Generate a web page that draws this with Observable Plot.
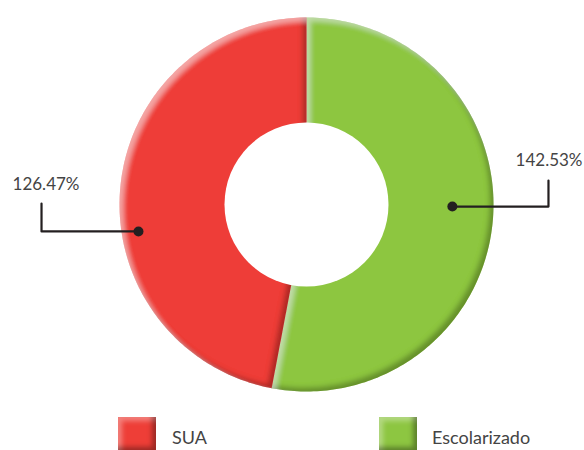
<!DOCTYPE html>
<html>
<head>
<meta charset="utf-8">
<script src="https://cdn.jsdelivr.net/npm/d3@7"></script>
<script src="https://cdn.jsdelivr.net/npm/@observablehq/plot@0.6"></script>
<style>
  html, body { margin: 0; padding: 0; background: #fff; }
  #wrap { position: relative; width: 584px; height: 450px; overflow: hidden; font-family: Lato, "Open Sans", sans-serif; }
  #legend { position: absolute; left: 0; top: 417px; width: 584px; height: 40px; }
  .sw { position: absolute; top: 0; width: 38px; height: 34px;
        box-shadow: inset -4px -4px 5px rgba(0,0,0,0.35), inset 4px 4px 5px rgba(255,255,255,0.35); }
  .lb { position: absolute; top: 10px; font-size: 18px; color: #444; line-height: 20px; }
</style>
</head>
<body>
<div id="wrap"></div>
<script>
// ---- data ----
const categories = ["Escolarizado", "SUA"];
const values = [142.53, 126.47];
const labels = ["142.53%", "126.47%"];
const colors = ["#8dc641", "#ee3e37"];

// ---- layout constants ----
const W = 584, H = 410;
const cx = 306, cy = 204, R = 187;
const holeFrac = 82 / 187;

const pie = d3.pie().sort(null).value(d => d.value).startAngle(0).endAngle(2 * Math.PI);
const arcs = pie(categories.map((c, i) => ({cat: c, value: values[i], color: colors[i], label: labels[i]})));

// slice polygons in unit coordinates (y up)
function slicePoints(a) {
  const pts = [{x: 0, y: 0}];
  const n = Math.max(8, Math.ceil((a.endAngle - a.startAngle) / (Math.PI / 180)));
  for (let k = 0; k <= n; k++) {
    const t = a.startAngle + (a.endAngle - a.startAngle) * k / n;
    pts.push({x: Math.sin(t), y: Math.cos(t)});
  }
  return pts;
}

// annotation anchors: angle (deg, clockwise from top), radius fraction; label offsets
const annot = [
  {angle: 90.8, rf: 0.78, elbowX: 1.294, elbowY: 0.128, tx: 1.476, ty: 0.208, anchor: "end"},
  {angle: 260.9, rf: 0.91, elbowX: -1.417, elbowY: 0.005, tx: -1.572, ty: 0.075, anchor: "start"}
];
const leaderLines = [], dots = [], texts = [];
arcs.forEach((a, i) => {
  const an = annot[i];
  const t = an.angle * Math.PI / 180;
  const dx = Math.sin(t) * an.rf, dy = Math.cos(t) * an.rf;
  dots.push({x: dx, y: dy});
  leaderLines.push({k: i, x: dx, y: dy}, {k: i, x: an.elbowX, y: dy}, {k: i, x: an.elbowX, y: an.elbowY});
  texts.push({x: an.tx, y: an.ty, text: a.data.label, anchor: an.anchor});
});

const marks = [];
arcs.forEach(a => {
  marks.push(Plot.line(slicePoints(a), {x: "x", y: "y", fill: a.data.color, stroke: "none", curve: "linear-closed"}));
});
marks.push(Plot.dot([{x: 0, y: 0}], {x: "x", y: "y", r: holeFrac * R, fill: "white", stroke: "none"}));
marks.push(Plot.line(leaderLines, {x: "x", y: "y", z: "k", stroke: "#231f20", strokeWidth: 2.2}));
marks.push(Plot.dot(dots, {x: "x", y: "y", r: 5, fill: "#231f20"}));
texts.forEach(t => {
  marks.push(Plot.text([t], {x: "x", y: "y", text: "text", textAnchor: t.anchor, lineAnchor: "bottom",
    fontSize: 17, fill: "#444", fontFamily: "Lato, 'Open Sans', sans-serif"}));
});

const svg = Plot.plot({
  width: W, height: H,
  margin: 0,
  x: {domain: [-1, 1], range: [cx - R, cx + R], axis: null},
  y: {domain: [-1, 1], range: [cy + R, cy - R], axis: null},
  style: {background: "white", overflow: "visible"},
  marks
});

// bevel filter
const ns = "http://www.w3.org/2000/svg";
const defs = document.createElementNS(ns, "defs");
defs.innerHTML = `
<filter id="bevel" x="-5%" y="-5%" width="110%" height="110%">
  <feGaussianBlur in="SourceAlpha" stdDeviation="2.5" result="b"/>
  <feOffset in="b" dx="-4" dy="-4" result="o1"/>
  <feComposite in="SourceAlpha" in2="o1" operator="out" result="m1"/>
  <feFlood flood-color="#000" flood-opacity="0.5" result="f1"/>
  <feComposite in="f1" in2="m1" operator="in" result="shadow"/>
  <feOffset in="b" dx="4" dy="4" result="o2"/>
  <feComposite in="SourceAlpha" in2="o2" operator="out" result="m2"/>
  <feFlood flood-color="#fff" flood-opacity="0.35" result="f2"/>
  <feComposite in="f2" in2="m2" operator="in" result="hl"/>
  <feMerge><feMergeNode in="SourceGraphic"/><feMergeNode in="shadow"/><feMergeNode in="hl"/></feMerge>
</filter>`;
svg.insertBefore(defs, svg.firstChild);
const lineGroups = svg.querySelectorAll('g[aria-label="line"]');
lineGroups.forEach((g, i) => { if (i < arcs.length) g.querySelectorAll("path").forEach(p => p.setAttribute("filter", "url(#bevel)")); });

const wrap = document.getElementById("wrap");
wrap.appendChild(svg);

// legend (below the svg)
const legend = document.createElement("div");
legend.id = "legend";
const legendItems = [
  {cat: categories[1], color: colors[1], sx: 118, tx: 172},
  {cat: categories[0], color: colors[0], sx: 379, tx: 432}
];
legendItems.forEach(it => {
  const sw = document.createElement("div");
  sw.className = "sw"; sw.style.left = it.sx + "px"; sw.style.background = it.color;
  const lb = document.createElement("div");
  lb.className = "lb"; lb.style.left = it.tx + "px"; lb.textContent = it.cat;
  legend.appendChild(sw); legend.appendChild(lb);
});
wrap.appendChild(legend);
</script>
</body>
</html>
